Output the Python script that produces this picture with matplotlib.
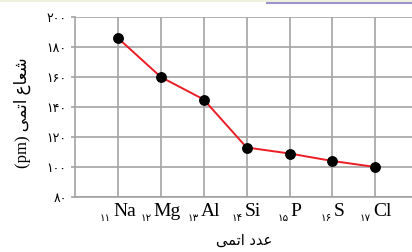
import matplotlib
matplotlib.use('Agg')
import matplotlib.pyplot as plt
from matplotlib.transforms import blended_transform_factory, offset_copy

# data
elements = ['Na', 'Mg', 'Al', 'Si', 'P', 'S', 'Cl']
atomic_numbers = [11, 12, 13, 14, 15, 16, 17]
radius_pm = [186, 160, 145, 113, 109, 104, 100]
y_ticks = [80, 100, 120, 140, 160, 180, 200]

fa_digits = str.maketrans('0123456789', '\u06f0\u06f1\u06f2\u06f3\u06f4\u06f5\u06f6\u06f7\u06f8\u06f9')

def fa(n):
    return str(n).translate(fa_digits)

# Persian labels, already shaped (presentation forms) in visual order
xlabel_fa = '\uFEF0\uFEE4\uFE97\uFE8D \uFEA9\uFEAA\uFECB'            # عدد اتمی
ylabel_fa = '(pm) \uFEF0\uFEE4\uFE97\uFE8D \uFEC9\uFE8E\uFECC\uFEB7'  # شعاع اتمی (pm)

grid_c = '#a3a3a3'

fig = plt.figure(figsize=(4.12, 2.52), dpi=100)
ax = fig.add_axes([75/412, 1 - 197/252, 1 - 75/412 + 0.01, (197 - 17)/252])

ax.plot(atomic_numbers, radius_pm, color='#ec1c24', lw=1.4, zorder=3)
ax.plot(atomic_numbers, radius_pm, 'o', color='black', ms=6.8, zorder=4)

ax.set_xlim(10, 17.95)
ax.set_ylim(80, 200)
ax.set_yticks(y_ticks)
ax.set_yticklabels([fa(v) for v in y_ticks], family='DejaVu Sans', fontsize=9)
ax.set_xticks(atomic_numbers)
ax.set_xticklabels([])
ax.tick_params(axis='y', length=3, width=1.2, color=grid_c, pad=3)
ax.tick_params(axis='x', length=0)
ax.grid(True, color=grid_c, lw=1.2)
ax.set_axisbelow(True)
for side in ['top', 'right']:
    ax.spines[side].set_visible(False)
for side in ['left', 'bottom']:
    ax.spines[side].set_color(grid_c)
    ax.spines[side].set_linewidth(1.2)

# x labels: small Persian atomic number to the lower left of the symbol
trans = blended_transform_factory(ax.transData, ax.transAxes)
labels = []
for x, sym, num in zip(atomic_numbers, elements, atomic_numbers):
    ts = ax.text(x, 0, sym, transform=trans, ha='left', va='baseline',
                 family='Liberation Serif', fontsize=14)
    tn = ax.text(x, 0, fa(num), transform=trans, ha='right', va='baseline',
                 family='DejaVu Sans', fontsize=7.5)
    labels.append((x, ts, tn))

fig.canvas.draw()
r = fig.canvas.get_renderer()
for x, ts, tn in labels:
    ws = ts.get_window_extent(r).width
    wn = tn.get_window_extent(r).width
    split = (wn - ws) / 2
    ts.set_transform(offset_copy(trans, fig=fig, x=split + 1, y=-19, units='dots'))
    tn.set_transform(offset_copy(trans, fig=fig, x=split - 1, y=-24, units='dots'))

fig.text(244/412, 1 - 240/252, xlabel_fa, ha='center', va='center',
         family='DejaVu Sans', fontsize=10.5)
fig.text(22/412, 1 - 113/252, ylabel_fa, ha='center', va='center', rotation=90,
         family=['Liberation Serif', 'DejaVu Sans'], fontsize=12)

# page decoration at the top edge
fig.add_artist(plt.Rectangle((0, 1 - 2/252), 1, 2/252, transform=fig.transFigure,
                             color='#eef2dc', lw=0))
fig.add_artist(plt.Line2D([267/412, 1], [1 - 3/252, 1 - 3/252], transform=fig.transFigure,
                          color='#9b95cc', lw=1.5))

fig.savefig('out.png', dpi=100)
